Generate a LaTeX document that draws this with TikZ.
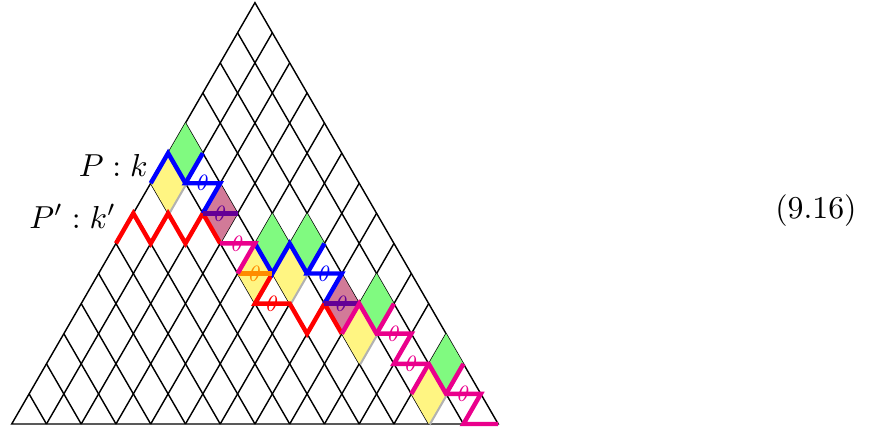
\documentclass[tikz,border=0pt]{standalone}
\usepackage{tikz}
\definecolor{pgreen}{RGB}{128,250,128}
\definecolor{pyellow}{RGB}{255,245,130}
\definecolor{pmauve}{RGB}{210,122,152}
\definecolor{ppink}{RGB}{234,0,140}
\definecolor{ppurple}{RGB}{100,0,150}
\definecolor{porange}{RGB}{255,140,0}
\newcommand{\rhomb}[3]{\fill[#1] (#2,#3) -- ++(0.5,1) -- ++(-0.5,1) -- ++(-0.5,-1) -- cycle;}
\begin{document}
\begin{tikzpicture}[x=0.3843cm, y=0.33281cm,
  gridline/.style={black, line width=0.45pt},
  pathline/.style={line width=1.4pt},
  th/.style={font=\fontsize{7.5}{8}\selectfont, inner sep=0pt},
  lbl/.style={anchor=base east, inner sep=0pt}]
\useasboundingbox (-0.337,-0.133) rectangle (24.872,14.089);
% grid
\foreach \i in {1,...,13} {
  \draw[gridline] (\i,0) -- ({(14+\i)/2},{14-\i});
  \draw[gridline] (\i,0) -- ({\i/2},\i);
}
\draw[gridline, line join=miter] (0,0) -- (14,0) -- (7,14) -- cycle;
% yellow shadows
\foreach \a/\r in {4.5/7, 7/4, 8/4, 10/2, 12/0} {
  \fill[black!30] ([xshift=0.5pt,yshift=-0.5pt]\a,\r) -- ++(0.5,1) -- ++(-0.5,1) -- ++(-0.5,-1) -- cycle;
}
% fills
\rhomb{pgreen}{5}{8}
\rhomb{pgreen}{7.5}{5}
\rhomb{pgreen}{8.5}{5}
\rhomb{pgreen}{10.5}{3}
\rhomb{pgreen}{12.5}{1}
\rhomb{pyellow}{4.5}{7}
\rhomb{pyellow}{7}{4}
\rhomb{pyellow}{8}{4}
\rhomb{pyellow}{10}{2}
\rhomb{pyellow}{12}{0}
\rhomb{pmauve}{6}{6}
\rhomb{pmauve}{9.5}{3}
% red path P'
\draw[pathline, red] (3,6) -- (3.5,7) -- (4,6) -- (4.5,7) -- (5,6) -- (5.5,7) -- (6,6);
\draw[pathline, red] (7.5,5) -- (7,4) -- (8,4) -- (8.5,3) -- (9,4) -- (9.5,3);
% blue path P
\draw[pathline, blue] (4,8) -- (4.5,9) -- (5,8);
\draw[pathline, blue] (5.5,9) -- (5,8) -- (6,8) -- (5.5,7);
\draw[pathline, blue] (7,6) -- (7.5,5) -- (8,6) -- (8.5,5);
\draw[pathline, blue] (9,6) -- (8.5,5) -- (9.5,5) -- (9,4);
% purple
\draw[pathline, ppurple] (5.5,7) -- (6.5,7);
\draw[pathline, ppurple] (9,4) -- (10,4);
% orange
\draw[pathline, porange] (6.5,5) -- (7.5,5);
% pink
\draw[pathline, ppink] (6,6) -- (7,6) -- (6.5,5);
\draw[pathline, ppink] (9.5,3) -- (10,4) -- (10.5,3) -- (11.5,3) -- (11,2) -- (12,2) -- (12.5,1) -- (13.5,1) -- (13,0) -- (14,0);
\draw[pathline, ppink] (11,4) -- (10.5,3);
\draw[pathline, ppink] (13,2) -- (12.5,1);
\draw[pathline, ppink] (12,2) -- (11.5,1);
% theta labels
\node[th, text=blue] (t1) at (5.5,8) {$\theta$};
\node[th, text=ppurple] (t2) at (6,7) {$\theta$};
\node[th, text=ppink] (t3) at (6.5,6) {$\theta$};
\node[th, text=porange] (t4) at (7,5) {$\theta$};
\node[th, text=red] (t5) at (7.5,4) {$\theta$};
\node[th, text=blue] (t6) at (9,5) {$\theta$};
\node[th, text=ppurple] (t7) at (9.5,4) {$\theta$};
\node[th, text=ppink] (t8) at (11,3) {$\theta$};
\node[th, text=ppink] (t9) at (11.5,2) {$\theta$};
\node[th, text=ppink] (t10) at (13,1) {$\theta$};
% labels
\node[lbl] (P) at (3.93,8.218) {$P:k$};
\node[lbl] (Pp) at (3.02,6.503) {$P':k'$};
\node[lbl] (eq) at (24.33,6.835) {(9.16)};
\end{tikzpicture}
\end{document}
